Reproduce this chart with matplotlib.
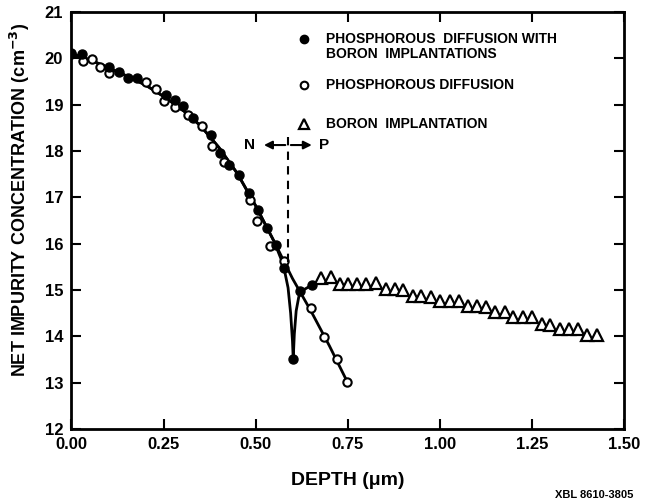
import matplotlib
matplotlib.use("Agg")
import matplotlib.pyplot as plt

plt.rcParams['font.family'] = ['Liberation Sans', 'DejaVu Sans']
plt.rcParams['font.weight'] = 'bold'
plt.rcParams['mathtext.default'] = 'bf'

# phosphorous diffusion with boron implantations (filled circles)
pb_depth = [0.00, 0.028, 0.103, 0.130, 0.154, 0.179, 0.257, 0.282, 0.304, 0.331,
            0.379, 0.404, 0.429, 0.456, 0.481, 0.506, 0.531, 0.554, 0.578, 0.602,
            0.620, 0.654]
pb_conc = [20.11, 20.09, 19.82, 19.71, 19.57, 19.57, 19.21, 19.10, 18.97, 18.71,
           18.35, 17.95, 17.70, 17.49, 17.09, 16.73, 16.34, 15.98, 15.48, 13.51,
           14.97, 15.12]

# phosphorous diffusion only (open circles)
p_depth = [0.00, 0.032, 0.057, 0.078, 0.103, 0.203, 0.230, 0.250, 0.282, 0.316,
           0.354, 0.381, 0.413, 0.486, 0.504, 0.540, 0.578, 0.649, 0.685, 0.720,
           0.749]
p_conc = [20.10, 19.94, 19.99, 19.82, 19.68, 19.48, 19.35, 19.07, 18.95, 18.78,
          18.54, 18.10, 17.77, 16.95, 16.48, 15.96, 15.62, 14.61, 13.99, 13.51,
          13.01]

# boron implantation (triangles)
b_depth = [0.678, 0.705, 0.729, 0.751, 0.776, 0.800, 0.826, 0.853, 0.878, 0.901,
           0.926, 0.950, 0.976, 1.001, 1.027, 1.052, 1.077, 1.101, 1.126, 1.151,
           1.176, 1.200, 1.226, 1.251, 1.277, 1.300, 1.326, 1.351, 1.374, 1.400,
           1.427]
b_conc = [15.26, 15.28, 15.13, 15.13, 15.13, 15.13, 15.15, 15.02, 15.02, 15.01,
          14.88, 14.88, 14.86, 14.77, 14.77, 14.77, 14.65, 14.65, 14.64, 14.53,
          14.53, 14.42, 14.42, 14.41, 14.27, 14.24, 14.17, 14.17, 14.17, 14.04,
          14.04]

# fitted curves drawn through the points
fit_p_depth = [0.00, 0.05, 0.10, 0.15, 0.20, 0.25, 0.30, 0.35, 0.40, 0.45,
               0.50, 0.55, 0.60, 0.65, 0.70, 0.75]
fit_p_conc = [20.10, 19.97, 19.80, 19.62, 19.43, 19.18, 18.90, 18.55, 18.08, 17.52,
              16.82, 16.05, 15.25, 14.55, 13.80, 13.00]
fit_pb_depth = [0.00, 0.05, 0.10, 0.15, 0.20, 0.25, 0.30, 0.35, 0.40, 0.45,
                0.50, 0.55, 0.575, 0.588, 0.595, 0.600, 0.602, 0.605, 0.610, 0.617,
                0.625, 0.640, 0.654]
fit_pb_conc = [20.10, 19.97, 19.80, 19.62, 19.43, 19.18, 18.90, 18.55, 18.08, 17.52,
               16.82, 16.05, 15.55, 15.05, 14.50, 13.90, 13.51, 14.05, 14.55, 14.85,
               14.98, 15.05, 15.12]

junction = 0.588

fig = plt.figure(figsize=(6.54, 5.03), dpi=100)
ax = fig.add_axes([0.1093, 0.147, 0.8448, 0.829])

ax.plot(fit_p_depth, fit_p_conc, color='black', lw=2)
ax.plot(fit_pb_depth, fit_pb_conc, color='black', lw=2)
ax.plot(p_depth, p_conc, 'o', ms=6, mfc='white', mec='black', mew=1.5)
ax.plot(pb_depth, pb_conc, 'o', ms=6.5, mfc='black', mec='black')
ax.plot(b_depth, b_conc, '^', ms=8, mfc='white', mec='black', mew=1.6)

# junction marker
ax.plot([junction, junction], [15.6, 18.3], color='black', lw=1.5, ls=(0, (4, 3)))
ax.annotate('', xy=(0.515, 18.13), xytext=(junction, 18.13),
            arrowprops=dict(arrowstyle='-|>', color='black', lw=1.5, mutation_scale=12))
ax.annotate('', xy=(0.66, 18.13), xytext=(junction, 18.13),
            arrowprops=dict(arrowstyle='-|>', color='black', lw=1.5, mutation_scale=12))
ax.text(0.497, 18.13, 'N', ha='right', va='center', fontsize=11, fontweight='bold')
ax.text(0.672, 18.13, 'P', ha='left', va='center', fontsize=11, fontweight='bold')

# legend drawn in place
leg_x = 0.63
ax.plot([leg_x], [20.41], 'o', ms=6, mfc='black', mec='black')
ax.text(leg_x + 0.06, 20.41, 'PHOSPHOROUS  DIFFUSION WITH', va='center', fontsize=10)
ax.text(leg_x + 0.06, 20.10, 'BORON  IMPLANTATIONS', va='center', fontsize=10)
ax.plot([leg_x], [19.42], 'o', ms=5.5, mfc='white', mec='black', mew=1.5)
ax.text(leg_x + 0.06, 19.42, 'PHOSPHOROUS DIFFUSION', va='center', fontsize=10)
ax.plot([leg_x], [18.58], '^', ms=7, mfc='white', mec='black', mew=1.6)
ax.text(leg_x + 0.06, 18.58, 'BORON  IMPLANTATION', va='center', fontsize=10)

ax.set_xlim(0, 1.5)
ax.set_ylim(12, 21)
ax.set_xticks([0.0, 0.25, 0.5, 0.75, 1.0, 1.25, 1.5])
ax.set_xticklabels(['0.00', '0.25', '0.50', '0.75', '1.00', '1.25', '1.50'])
ax.set_yticks(range(12, 22))
ax.tick_params(direction='in', length=7, width=1.5, top=True, right=True,
               labelsize=12, pad=6)
for lab in ax.get_xticklabels() + ax.get_yticklabels():
    lab.set_fontweight('bold')
for sp in ax.spines.values():
    sp.set_linewidth(2)

ax.set_xlabel('DEPTH (μm)', fontsize=14, fontweight='bold', labelpad=14)
ax.set_ylabel(r'NET IMPURITY CONCENTRATION (cm$^{-3}$)', fontsize=13,
              fontweight='bold')
ax.yaxis.set_label_coords(-0.072, 0.55)

fig.text(0.968, 0.006, 'XBL 8610-3805', ha='right', va='bottom', fontsize=8)

fig.savefig('out.png', dpi=100)
